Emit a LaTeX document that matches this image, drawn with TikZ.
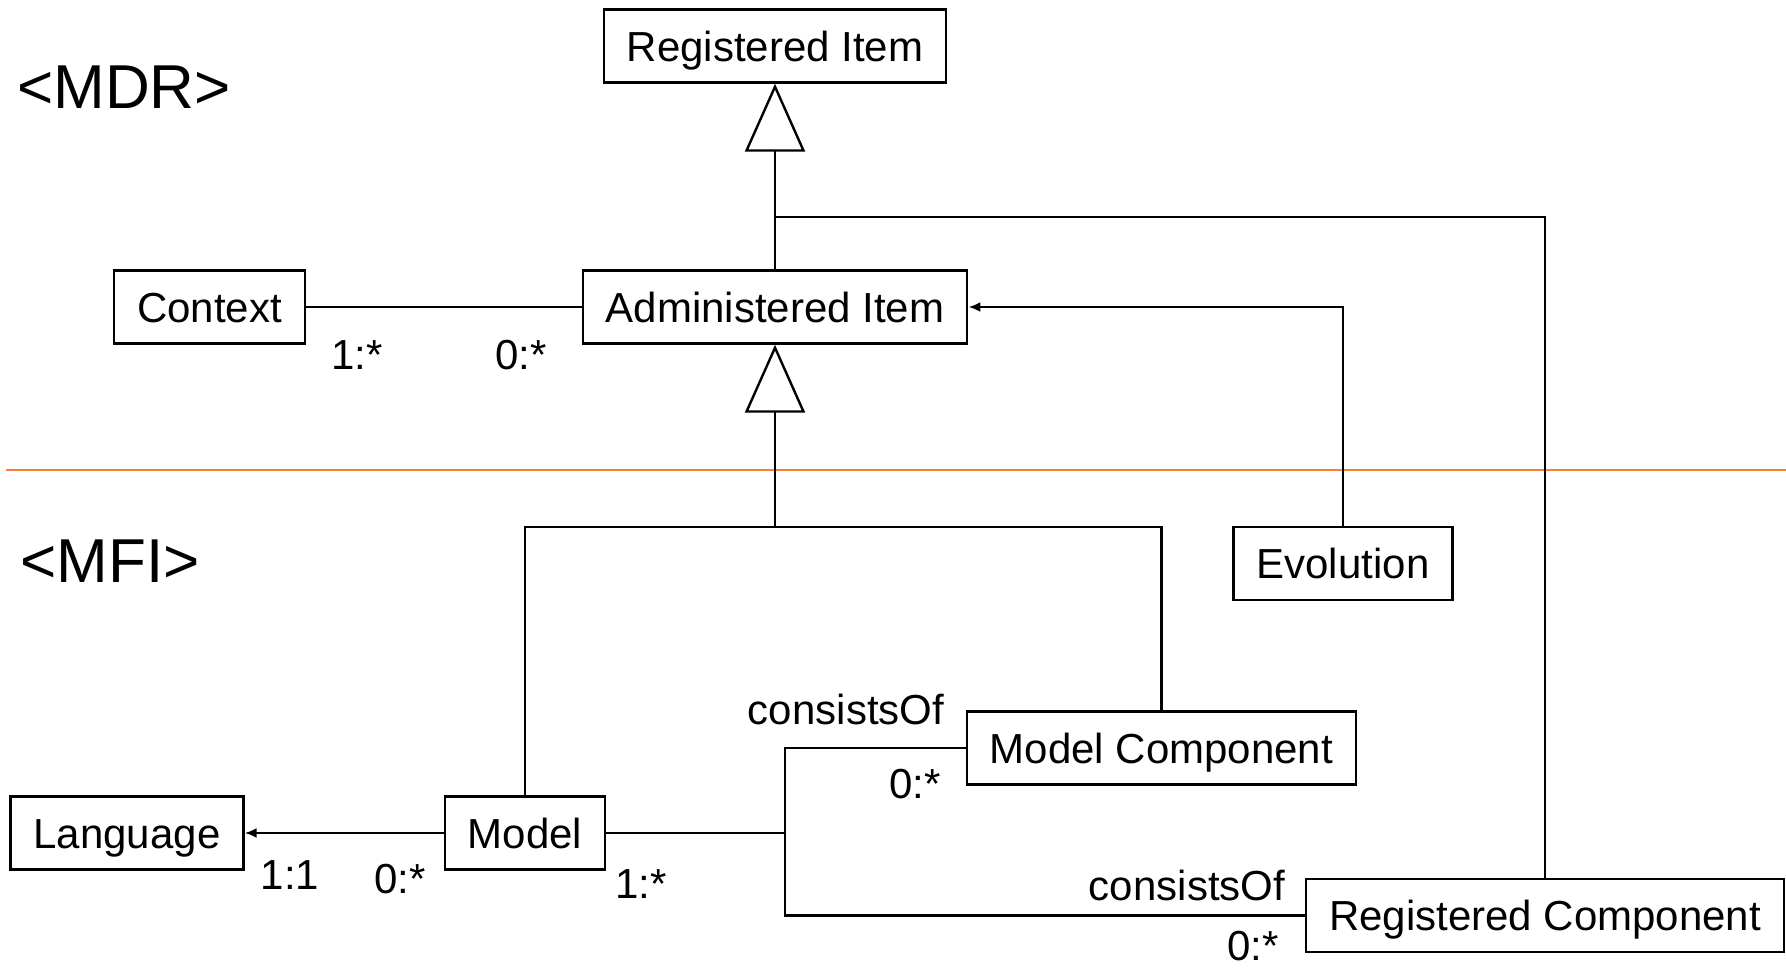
\documentclass[tikz,border=0pt]{standalone}
\usepackage{fontspec}
\setmainfont{Liberation Sans}
\usetikzlibrary{arrows.meta}
\definecolor{sepline}{RGB}{247,128,55}
\begin{document}
\begin{tikzpicture}[x=0.5pt, y=-0.5pt,
    cls/.style={draw, line width=1.2pt, minimum height=36.5pt, inner xsep=11.5pt, text height=15pt, text depth=0pt, font=\fontsize{21}{24}\selectfont},
    lbl/.style={inner sep=0pt, font=\fontsize{21}{24}\selectfont},
    pkg/.style={inner sep=0pt, font=\fontsize{31}{36}\selectfont},
    gen/.style={line width=1.2pt, -{Triangle[open, length=34pt, width=30pt, line width=1.2pt]}},
    assoc/.style={line width=1.2pt, -{Latex[length=6pt, width=5pt]}},
    link/.style={line width=1.2pt}]
    \useasboundingbox (0,0) rectangle (1786,969);
    % Draw package split
    \draw [sepline, line width=1.2pt] (6,470) -- (1786,470);
    \node [pkg] (lmdr) at (124,87) {<MDR>};
    \node [pkg] (lmfi) at (110,561) {<MFI>};
    % Draw classes
    \node [cls] (ri) at (775,46) {Registered Item};
    \node [cls] (ai) at (775,307) {Administered Item};
    \node [cls] (ctx) at (209.5,307) {Context};
    \node [cls] (evo) at (1343,563.5) {Evolution};
    \node [cls] (mc) at (1161.5,748) {Model Component};
    \node [cls] (model) at (525,833) {Model};
    \node [cls] (lang) at (127,833) {Language};
    \node [cls] (rc) at (1545,915.5) {Registered Component};
    \coordinate (ribranch) at (775,217);
    \coordinate (genjoin) at (775,527);
    \coordinate (fork) at (785,833);
    % Draw relations
    \draw [gen] (ai) -- (ri);
    \draw [link] (ribranch) -| (rc);
    \draw [link] (ctx) -- (ai);
    \draw [assoc] (evo) |- (ai);
    \draw [gen] (genjoin) -- (ai);
    \draw [link] (model) |- (genjoin) -| (mc);
    \draw [assoc] (model) -- (lang);
    \draw [link] (model) -- (fork);
    \draw [link] (mc) -| (fork) |- (rc);
    % Draw multiplicities
    \node [lbl] (mctx) at (357,355) {1:*};
    \node [lbl] (mai) at (521,355) {0:*};
    \node [lbl] (mlang) at (290,875) {1:1};
    \node [lbl] (mmodl) at (400,879) {0:*};
    \node [lbl] (mmodr) at (641,884) {1:*};
    \node [lbl] (cmc) at (846,709) {consistsOf};
    \node [lbl] (mmc) at (915,784) {0:*};
    \node [lbl] (crc) at (1187,885) {consistsOf};
    \node [lbl] (mrc) at (1253,946) {0:*};
\end{tikzpicture}
\end{document}
